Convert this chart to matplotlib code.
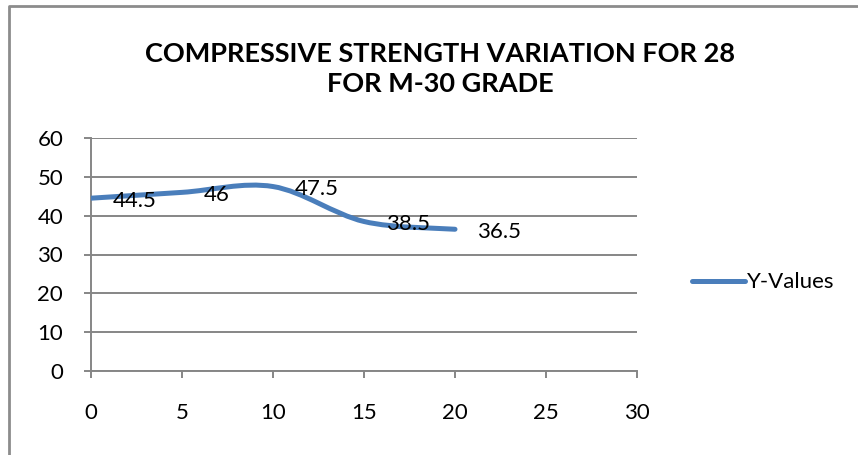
import matplotlib
matplotlib.use("Agg")
import matplotlib.pyplot as plt
from matplotlib.path import Path
from matplotlib.patches import PathPatch
from matplotlib.lines import Line2D

plt.rcParams["font.family"] = ["Lato", "DejaVu Sans"]

x_vals = [0, 5, 10, 15, 20]
y_vals = [44.5, 46, 47.5, 38.5, 36.5]
labels = ["44.5", "46", "47.5", "38.5", "36.5"]
series_name = "Y-Values"
title = "COMPRESSIVE STRENGTH VARIATION FOR 28\nFOR M-30 GRADE"

blue = "#4A7EBB"
grid = "#868686"
fs = 16

fig = plt.figure(figsize=(8.58, 4.55), dpi=100)
ax = fig.add_axes([91 / 858, 1 - 371 / 455, 546 / 858, 233 / 455])


# excel style smoothed line: cubic bezier segments through the points
def smooth_path(xs, ys, t=1 / 6):
    verts = [(xs[0], ys[0])]
    codes = [Path.MOVETO]
    n = len(xs)
    for i in range(n - 1):
        x0, y0 = xs[max(i - 1, 0)], ys[max(i - 1, 0)]
        x1, y1 = xs[i], ys[i]
        x2, y2 = xs[i + 1], ys[i + 1]
        x3, y3 = xs[min(i + 2, n - 1)], ys[min(i + 2, n - 1)]
        c1 = (x1 + (x2 - x0) * t, y1 + (y2 - y0) * t)
        c2 = (x2 - (x3 - x1) * t, y2 - (y3 - y1) * t)
        verts += [c1, c2, (x2, y2)]
        codes += [Path.CURVE4] * 3
    return Path(verts, codes)


ax.add_patch(PathPatch(smooth_path(x_vals, y_vals), fill=False,
                       edgecolor=blue, lw=3.6, capstyle="round", zorder=3))

for x, y, s in zip(x_vals, y_vals, labels):
    ax.annotate(s, (x, y), xytext=(16, -2), textcoords="offset points",
                ha="left", va="center", fontsize=fs, color="black", zorder=4)

ax.set_xlim(0, 30)
ax.set_ylim(0, 60)
ax.set_xticks(range(0, 31, 5))
ax.set_yticks(range(0, 61, 10))
ax.yaxis.grid(True, color=grid, lw=1.4)
ax.set_axisbelow(True)
for side in ["top", "right"]:
    ax.spines[side].set_visible(False)
for side in ["left", "bottom"]:
    ax.spines[side].set_color(grid)
    ax.spines[side].set_linewidth(1.4)
ax.tick_params(axis="both", colors=grid, width=1.4, length=5, labelsize=fs,
               labelcolor="black")
ax.tick_params(axis="x", pad=18)
ax.tick_params(axis="y", pad=15)

fig.text(440 / 858, 1 - 69 / 455, title, ha="center", va="center",
         fontsize=19.5, fontweight="bold", linespacing=1.3)

# legend
leg_handle = Line2D([], [], color=blue, lw=3.6, solid_capstyle="round")
ax.legend([leg_handle], [series_name], loc="center left",
          bbox_to_anchor=(590 / 546, 0.38), frameon=False, fontsize=fs,
          handlelength=2.4, handletextpad=0.05, borderpad=0)

# chart area border (left and top visible)
fig.add_artist(Line2D([9 / 858, 9 / 858, 1], [0, 1 - 6 / 455, 1 - 6 / 455],
                      transform=fig.transFigure, color="#8c8c8c", lw=2))

fig.savefig("out.png", dpi=100)
